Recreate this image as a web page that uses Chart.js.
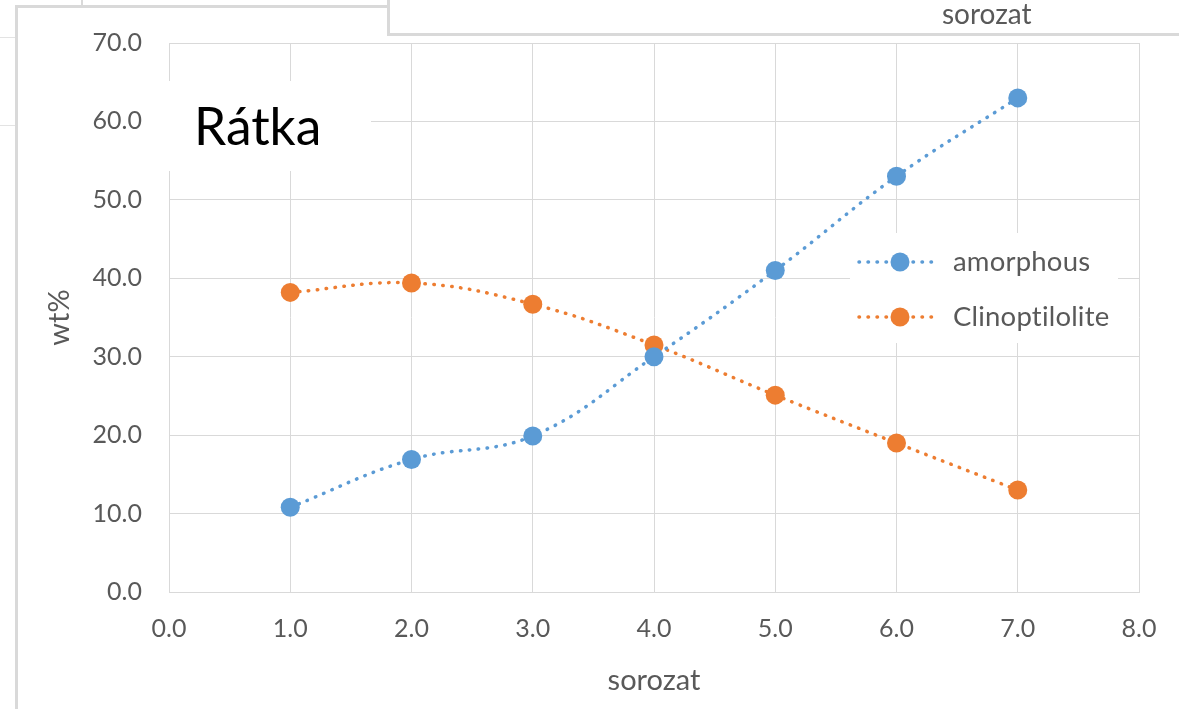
<!DOCTYPE html>
<html>
<head>
<meta charset="utf-8">
<title>Rátka</title>
<script src="https://cdn.jsdelivr.net/npm/chart.js@4.4.1/dist/chart.umd.min.js"></script>
<style>
  html, body { margin: 0; padding: 0; background: #ffffff; }
  #wrap { position: relative; width: 1179px; height: 709px; overflow: hidden; }
  #c { position: absolute; left: 0; top: 0; }
  .fr { position: absolute; background: #d9d9d9; }
  .thin { background: #e3e3e3; }
  #topTitle { position: absolute; left: 942px; top: -4px; font-family: Lato, sans-serif;
              font-size: 28px; color: #595959; }
</style>
</head>
<body>
<div id="wrap">
  <canvas id="c" width="1179" height="709"></canvas>
  <!-- surrounding sheet frames -->
  <div class="fr" style="left:81px;top:0;width:2px;height:6px;"></div>
  <div class="fr" style="left:15px;top:5px;width:375px;height:3px;"></div>
  <div class="fr" style="left:15px;top:5px;width:3px;height:704px;"></div>
  <div class="fr" style="left:387px;top:0;width:3px;height:36px;"></div>
  <div class="fr" style="left:387px;top:33px;width:792px;height:3px;"></div>
  <div class="fr thin" style="left:0;top:37px;width:15px;height:1px;"></div>
  <div class="fr thin" style="left:0;top:125px;width:15px;height:1px;"></div>
  <div id="topTitle">sorozat</div>
</div>
<script>
// sample index (sorozat) and measured weight percentages
const sorozat = [1, 2, 3, 4, 5, 6, 7];
const amorphous = [10.8, 16.9, 19.9, 30.0, 41.0, 53.0, 63.0];
const clinoptilolite = [38.2, 39.4, 36.7, 31.5, 25.1, 19.0, 13.0];
const seriesNames = ['amorphous', 'Clinoptilolite'];
const xTicks = [0, 1, 2, 3, 4, 5, 6, 7, 8];
const yTicks = [0, 10, 20, 30, 40, 50, 60, 70];
const chartTitle = 'Rátka';
const xTitle = 'sorozat';
const yTitle = 'wt%';

const BLUE = '#5B9BD5';
const ORANGE = '#ED7D31';
const GRID = '#d9d9d9';
const TEXT = '#595959';
const FONT = 'Lato, "Open Sans", sans-serif';

function toPoints(ys) {
  return sorozat.map((x, i) => ({ x: x, y: ys[i] }));
}

function lineDataset(label, ys, color) {
  return {
    label: label,
    data: toPoints(ys),
    borderColor: color,
    backgroundColor: color,
    borderWidth: 3.5,
    borderDash: [0.5, 8.5],
    borderCapStyle: 'round',
    tension: 0.4,
    pointRadius: 9.5,
    pointHoverRadius: 9.5,
    pointBorderWidth: 0,
    pointBackgroundColor: color,
    fill: false
  };
}

// white title box with the chart name, laid over the grid
const titleBox = {
  id: 'titleBox',
  afterDatasetsDraw(chart) {
    const ctx = chart.ctx;
    ctx.save();
    ctx.fillStyle = '#ffffff';
    ctx.fillRect(150, 81, 221, 90);
    ctx.fillStyle = '#000000';
    ctx.font = '51.5px ' + FONT;
    ctx.textAlign = 'left';
    ctx.textBaseline = 'alphabetic';
    ctx.fillText(chartTitle, 194, 145);
    ctx.restore();
  }
};

// legend drawn inside the plot area on a white box
const insideLegend = {
  id: 'insideLegend',
  afterDatasetsDraw(chart) {
    const ctx = chart.ctx;
    ctx.save();
    ctx.fillStyle = '#ffffff';
    ctx.fillRect(850, 233, 268, 110);
    chart.data.datasets.forEach((ds, i) => {
      const y = 262 + i * 55;
      ctx.strokeStyle = ds.borderColor;
      ctx.lineWidth = ds.borderWidth;
      ctx.lineCap = 'round';
      ctx.setLineDash(ds.borderDash);
      ctx.beginPath();
      ctx.moveTo(859, y);
      ctx.lineTo(938, y);
      ctx.stroke();
      ctx.setLineDash([]);
      ctx.fillStyle = ds.pointBackgroundColor;
      ctx.beginPath();
      ctx.arc(900, y, ds.pointRadius, 0, Math.PI * 2);
      ctx.fill();
      ctx.fillStyle = TEXT;
      ctx.font = '27.5px ' + FONT;
      ctx.textRendering = 'optimizeSpeed';
      ctx.letterSpacing = '0.2px';
      ctx.textAlign = 'left';
      ctx.textBaseline = 'middle';
      ctx.fillText(ds.label, 953, y);
    });
    ctx.restore();
  }
};

new Chart(document.getElementById('c'), {
  type: 'line',
  data: {
    datasets: [
      lineDataset(seriesNames[0], amorphous, BLUE),
      lineDataset(seriesNames[1], clinoptilolite, ORANGE)
    ]
  },
  options: {
    responsive: false,
    animation: false,
    events: [],
    layout: { padding: { top: 43, right: 40, left: 0, bottom: 0 } },
    plugins: {
      legend: { display: false },
      tooltip: { enabled: false },
      title: { display: false }
    },
    scales: {
      x: {
        type: 'linear',
        min: xTicks[0],
        max: xTicks[xTicks.length - 1],
        afterBuildTicks(scale) { scale.ticks = xTicks.map(v => ({ value: v })); },
        afterFit(scale) { scale.height = 117; },
        ticks: {
          callback: v => Number(v).toFixed(1),
          color: TEXT,
          font: { family: FONT, size: 25 },
          padding: 22,
          maxRotation: 0,
          autoSkip: false
        },
        grid: { color: GRID, lineWidth: 1, drawTicks: false },
        border: { color: GRID, width: 1 },
        title: {
          display: true,
          text: xTitle,
          color: TEXT,
          font: { family: FONT, size: 29 },
          padding: { top: 0, bottom: 11 }
        }
      },
      y: {
        type: 'linear',
        min: yTicks[0],
        max: yTicks[yTicks.length - 1],
        afterBuildTicks(scale) { scale.ticks = yTicks.map(v => ({ value: v })); },
        afterFit(scale) { scale.width = 169; },
        ticks: {
          callback: v => Number(v).toFixed(1),
          color: TEXT,
          font: { family: FONT, size: 25 },
          padding: 27,
          autoSkip: false
        },
        grid: { color: GRID, lineWidth: 1, drawTicks: false },
        border: { color: GRID, width: 1 },
        title: {
          display: true,
          text: yTitle,
          color: TEXT,
          font: { family: FONT, size: 29 },
          padding: { top: 42, bottom: 0 }
        }
      }
    }
  },
  plugins: [titleBox, insideLegend]
});
</script>
</body>
</html>
